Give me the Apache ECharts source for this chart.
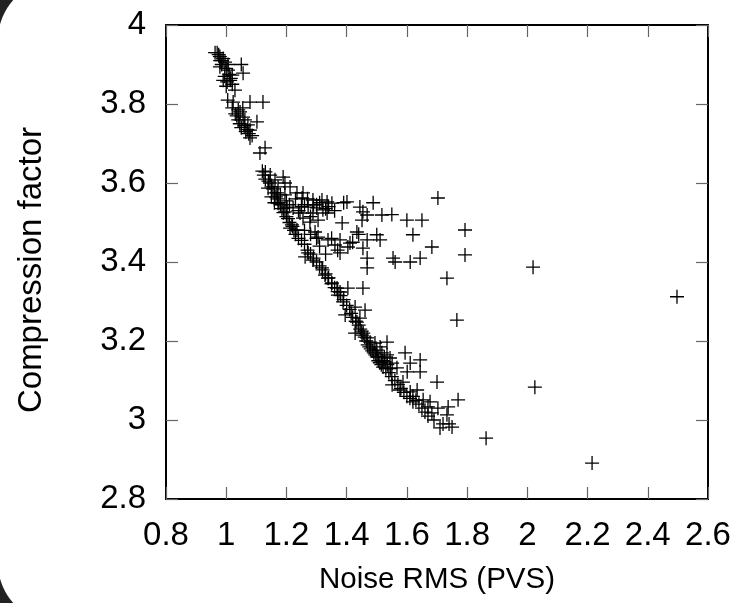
<!DOCTYPE html>
<html>
<head>
<meta charset="utf-8">
<script src="https://cdn.jsdelivr.net/npm/echarts@6/dist/echarts.min.js"></script>
<style>
html,body{margin:0;padding:0;background:#222;}
#chart{width:741px;height:603px;}
</style>
</head>
<body>
<div id="chart"></div>
<script>
// Noise RMS (PVS) values
const noiseRms = [
0.963,0.979,0.986,0.996,1.006,0.979,1.05,1.006,1.056,1.02,1.013,1.003,1.029,1.023,1.079,1.122,1.046,1.056,1.062,1.072,1.102,1.079,1.086,1.079,1.129,1.112,
0.97,0.975,0.98,0.99,0.985,1.0,0.995,1.01,1.015,1.02,0.99,1.0,1.005,1.02,1.03,1.035,1.04,1.045,1.05,1.06,1.065,1.07,1.075,1.04,1.055,
1.13,1.146,1.162,1.189,1.139,1.172,1.195,1.212,1.169,1.195,1.235,1.255,1.252,1.288,1.318,1.335,1.351,1.401,1.172,1.202,1.222,1.272,1.301,1.321,1.288,1.335,1.195,1.245,1.255,1.278,1.305,1.385,
1.444,1.454,1.451,1.468,1.517,1.703,1.6,1.65,1.793,1.62,1.212,1.235,1.218,1.434,1.5,1.511,1.295,1.305,1.338,1.378,1.411,1.468,1.361,1.404,1.454,1.683,1.793,1.378,1.272,1.262,1.288,1.468,1.554,1.561,1.611,1.644,1.468,1.318,1.328,1.338,1.733,1.351,1.368,1.378,1.404,1.454,1.371,
2.019,2.497,2.025,2.215,1.863,1.488,1.39,1.55,
1.12,1.125,1.13,1.14,1.145,1.15,1.155,1.16,1.165,1.17,1.175,1.18,1.185,1.19,1.2,1.205,1.21,1.22,1.225,1.23,1.24,1.25,1.26,1.27,1.28,1.29,1.3,1.31,1.32,1.33,1.34,1.35,1.36,1.37,1.38,1.39,
1.15,1.16,1.18,1.2,1.21,1.23,1.24,1.26,1.27,1.28,1.3,1.31,1.33,1.34,1.36,1.25,1.29,
1.388,1.428,1.461,1.395,1.444,1.434,1.766,1.428,1.451,1.468,1.478,1.494,1.511,1.534,1.5,1.517,1.534,1.544,1.504,1.527,1.551,1.521,1.567,1.594,1.644,1.611,1.601,1.644,1.551,1.587,1.7,1.577,1.611,1.634,1.62,1.654,1.677,1.77,1.67,1.703,1.683,1.733,1.71,1.75,1.737,
1.40,1.41,1.415,1.42,1.43,1.44,1.445,1.45,1.455,1.46,1.465,1.47,1.475,1.48,1.485,1.49,1.495,1.5,1.505,1.51,1.515,1.52,1.525,1.53,1.535,1.54,1.545,1.55,1.56,1.57,1.58,1.59,1.6,1.61,1.62,1.63,1.64,1.65,1.66,1.67,1.69,1.72,1.74,
1.28,1.31,1.35,1.42,1.44,1.37,1.33,1.26,1.3
];
// Compression factor values
const compression = [
3.93,3.92,3.91,3.906,3.90,3.894,3.90,3.886,3.878,3.873,3.86,3.856,3.835,3.805,3.805,3.805,3.78,3.767,3.76,3.747,3.755,3.734,3.72,3.714,3.689,3.676,
3.93,3.925,3.91,3.915,3.90,3.89,3.87,3.875,3.865,3.85,3.86,3.845,3.81,3.79,3.775,3.77,3.76,3.75,3.74,3.745,3.73,3.735,3.725,3.785,3.79,
3.628,3.62,3.608,3.615,3.587,3.59,3.6,3.59,3.575,3.57,3.575,3.575,3.562,3.557,3.557,3.552,3.549,3.552,3.549,3.539,3.537,3.539,3.537,3.532,3.524,3.524,3.527,3.524,3.511,3.501,3.506,3.499,
3.539,3.527,3.506,3.519,3.519,3.562,3.506,3.506,3.481,3.469,3.486,3.481,3.494,3.476,3.469,3.456,3.476,3.463,3.456,3.456,3.448,3.456,3.443,3.438,3.435,3.438,3.418,3.423,3.423,3.413,3.405,3.41,3.41,3.40,3.40,3.41,3.385,3.385,3.367,3.359,3.359,3.347,3.334,3.324,3.334,3.334,3.316,
3.387,3.312,3.083,2.891,2.954,3.55,3.55,3.52,
3.63,3.62,3.61,3.605,3.60,3.59,3.585,3.575,3.565,3.56,3.55,3.545,3.535,3.525,3.515,3.51,3.50,3.49,3.48,3.47,3.46,3.455,3.445,3.43,3.42,3.41,3.40,3.39,3.38,3.37,3.36,3.345,3.335,3.325,3.315,3.305,
3.565,3.55,3.57,3.555,3.545,3.56,3.53,3.545,3.56,3.515,3.545,3.55,3.535,3.54,3.53,3.54,3.545,
3.299,3.286,3.278,3.266,3.258,3.248,3.253,3.22,3.215,3.208,3.197,3.195,3.185,3.197,3.177,3.17,3.165,3.157,3.16,3.147,3.144,3.134,3.132,3.17,3.152,3.144,3.122,3.122,3.089,3.096,3.096,3.076,3.071,3.076,3.046,3.051,3.046,3.051,3.033,3.03,3.018,3.013,2.98,2.982,3.033,
3.29,3.28,3.27,3.26,3.25,3.24,3.23,3.225,3.22,3.21,3.20,3.19,3.185,3.18,3.175,3.17,3.165,3.16,3.15,3.145,3.14,3.15,3.16,3.13,3.14,3.12,3.13,3.11,3.10,3.09,3.08,3.07,3.06,3.055,3.06,3.05,3.04,3.03,3.02,3.01,3.00,2.99,2.99,
3.47,3.44,3.46,3.45,3.47,3.43,3.42,3.48,3.46
];
const xTicks = [0.8, 2.6, 0.2];   // min, max, interval
const yTicks = [2.8, 4.0, 0.2];

const points = noiseRms.map((v, i) => [v, compression[i]]);
const font = 'Liberation Sans';
const chart = echarts.init(document.getElementById('chart'));

const tickStyle = {show: true, inside: true, length: 12, lineStyle: {color: '#666', width: 1.2}};
const lineStyle = {show: true, onZero: false, lineStyle: {color: '#000', width: 2}};

chart.setOption({
  backgroundColor: '#222',
  animation: false,
  graphic: [{
    type: 'rect', z: -100, silent: true,
    shape: {x: -2, y: -20, width: 900, height: 643, r: 60},
    style: {fill: '#fff'}
  }],
  grid: {left: 166, right: 33, top: 25, bottom: 104},
  xAxis: [{
    type: 'value', min: xTicks[0], max: xTicks[1], interval: xTicks[2],
    position: 'bottom',
    name: 'Noise RMS (PVS)', nameLocation: 'middle', nameGap: 66,
    nameTextStyle: {fontFamily: font, fontSize: 29.5, color: '#000'},
    axisLine: lineStyle, axisTick: tickStyle, splitLine: {show: false},
    axisLabel: {fontFamily: font, fontSize: 33, color: '#000', margin: 20,
      formatter: v => String(Math.round(v * 10) / 10)}
  }, {
    type: 'value', min: xTicks[0], max: xTicks[1], interval: xTicks[2],
    position: 'top',
    axisLine: lineStyle, axisTick: tickStyle, splitLine: {show: false},
    axisLabel: {show: false}
  }],
  yAxis: [{
    type: 'value', min: yTicks[0], max: yTicks[1], interval: yTicks[2],
    position: 'left',
    name: 'Compression factor', nameLocation: 'middle', nameGap: 118,
    nameTextStyle: {fontFamily: font, fontSize: 33, color: '#000', padding: [0, 16, 0, 0]},
    axisLine: lineStyle, axisTick: tickStyle, splitLine: {show: false},
    axisLabel: {fontFamily: font, fontSize: 33, color: '#000', margin: 20,
      formatter: v => String(Math.round(v * 10) / 10)}
  }, {
    type: 'value', min: yTicks[0], max: yTicks[1], interval: yTicks[2],
    position: 'right',
    axisLine: lineStyle, axisTick: tickStyle, splitLine: {show: false},
    axisLabel: {show: false}
  }],
  series: [{
    type: 'scatter',
    data: points,
    symbol: 'path://M0,-1L0,1M-1,0L1,0',
    symbolSize: 14,
    itemStyle: {color: 'none', borderColor: '#000', borderWidth: 1.3, opacity: 1},
    emphasis: {disabled: true}
  }]
});
</script>
</body>
</html>
